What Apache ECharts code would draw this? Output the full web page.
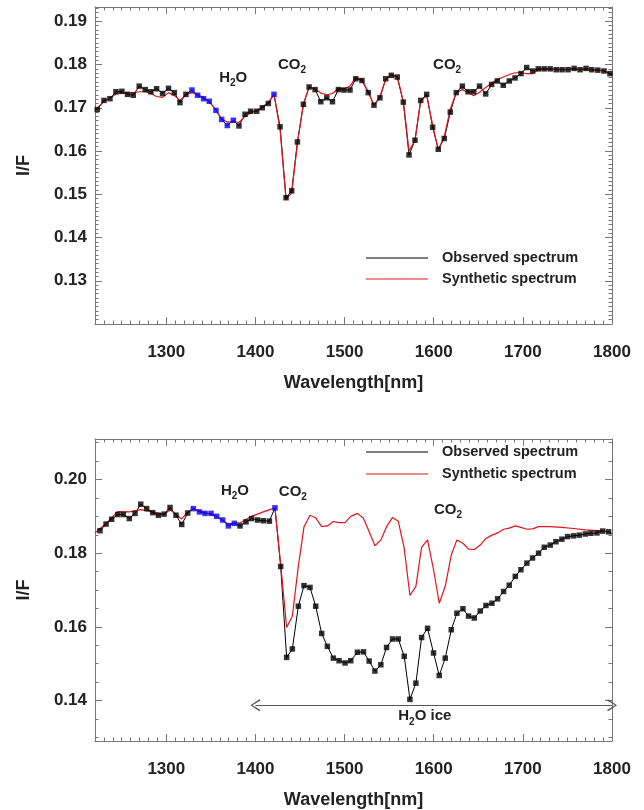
<!DOCTYPE html>
<html><head><meta charset="utf-8">
<script src="https://cdn.jsdelivr.net/npm/echarts@6/dist/echarts.min.js"></script>
<style>html,body{margin:0;padding:0;background:#fff}#c{width:644px;height:810px}</style>
</head><body><div id="c"></div>
<script>
// ---------- DATA ----------
const xMajor = [1300, 1400, 1500, 1600, 1700, 1800];
const yTopMajor = [0.13, 0.14, 0.15, 0.16, 0.17, 0.18, 0.19];
const yBotMajor = [0.14, 0.16, 0.18, 0.20];

// Top panel: observed spectrum
const topObsWl = [1222.6,1230.1,1236.8,1243.5,1250.2,1256.5,1262.9,1269.6,1276.4,1282.7,1289.1,1295.8,1302.5,1309.0,1315.3,1322.0,1328.8,1335.1,1341.8,1348.2,1355.7,1362.1,1368.4,1375.2,1381.5,1388.3,1394.6,1401.4,1407.7,1414.5,1420.8,1427.6,1434.3,1440.7,1447.1,1453.8,1460.2,1466.9,1473.3,1480.0,1486.4,1493.1,1499.4,1506.1,1512.5,1519.5,1526.6,1533.0,1539.7,1546.1,1552.4,1559.1,1565.9,1572.3,1579.0,1585.4,1592.1,1598.8,1605.1,1611.9,1618.6,1625.3,1632.1,1638.5,1644.9,1651.4,1658.3,1665.0,1671.3,1678.0,1684.8,1691.2,1697.9,1704.3,1711.0,1717.3,1723.9,1730.6,1737.4,1744.0,1750.7,1757.5,1764.2,1770.9,1777.3,1784.1,1791.0,1797.7];
const topObsVal = [0.1696,0.1717,0.1721,0.1737,0.1738,0.1731,0.1729,0.1750,0.1742,0.1737,0.1744,0.1733,0.1745,0.1735,0.1712,0.1731,0.1741,0.1729,0.1721,0.1715,0.1694,0.1673,0.1659,0.1671,0.1658,0.1685,0.1692,0.1692,0.1700,0.1710,0.1731,0.1656,0.1492,0.1508,0.1621,0.1708,0.1748,0.1742,0.1714,0.1723,0.1714,0.1742,0.1741,0.1741,0.1767,0.1763,0.1735,0.1706,0.1723,0.1767,0.1775,0.1771,0.1713,0.1591,0.1625,0.1717,0.1731,0.1655,0.1604,0.1629,0.1690,0.1735,0.1750,0.1737,0.1737,0.1750,0.1732,0.1754,0.1762,0.1752,0.1762,0.1769,0.1779,0.1793,0.1785,0.1790,0.1790,0.1790,0.1788,0.1788,0.1788,0.1791,0.1788,0.1791,0.1788,0.1787,0.1785,0.1779];
const topBlueIdx = [16,17,18,19,20,21,22,23,30];

// Top panel: synthetic spectrum
const topSynWl = [1220.0,1230.1,1236.8,1243.5,1250.2,1256.5,1262.9,1269.6,1276.4,1282.7,1289.1,1295.8,1302.5,1309.0,1315.3,1322.0,1328.8,1335.1,1341.8,1348.2,1355.7,1362.1,1368.4,1375.2,1381.5,1388.3,1394.6,1401.4,1407.7,1414.5,1420.8,1427.6,1434.3,1440.7,1447.1,1453.8,1460.2,1466.9,1473.3,1480.0,1486.4,1493.1,1499.4,1506.1,1512.5,1519.5,1526.6,1533.0,1539.7,1546.1,1552.4,1559.1,1565.9,1572.3,1579.0,1585.4,1592.1,1598.8,1605.1,1611.9,1618.6,1625.3,1632.1,1638.5,1644.9,1651.4,1658.3,1665.0,1671.3,1678.0,1684.8,1691.2,1697.9,1704.3,1711.0,1717.3,1730.6,1750.7,1770.9,1791.0,1800.0];
const topSynVal = [0.1694,0.1715,0.1722,0.1732,0.1735,0.1735,0.1735,0.1737,0.1737,0.1733,0.1726,0.1724,0.1735,0.1728,0.1717,0.1730,0.1735,0.1730,0.1724,0.1714,0.1695,0.1674,0.1667,0.1668,0.1666,0.1680,0.1688,0.1693,0.1702,0.1712,0.1731,0.1650,0.1488,0.1503,0.1618,0.1708,0.1748,0.1744,0.1734,0.1730,0.1733,0.1745,0.1744,0.1750,0.1770,0.1765,0.1737,0.1705,0.1727,0.1765,0.1777,0.1772,0.1715,0.1600,0.1625,0.1717,0.1728,0.1660,0.1603,0.1634,0.1697,0.1735,0.1742,0.1736,0.1728,0.1736,0.1747,0.1757,0.1765,0.1771,0.1777,0.1781,0.1781,0.1779,0.1779,0.1788,0.1789,0.1789,0.1788,0.1786,0.1775];

// Bottom panel: observed spectrum
const botObsWl = [1225.6,1232.4,1238.7,1245.5,1251.8,1258.5,1264.9,1271.3,1278.0,1284.7,1291.1,1297.5,1304.2,1310.9,1317.3,1324.0,1330.3,1337.1,1343.4,1350.2,1356.5,1363.2,1369.6,1376.3,1382.7,1389.4,1395.7,1402.5,1408.8,1415.6,1421.9,1428.3,1435.0,1441.4,1448.1,1454.5,1461.2,1467.6,1474.3,1480.7,1487.4,1493.8,1500.5,1506.9,1514.4,1521.2,1527.6,1534.0,1540.7,1547.1,1553.8,1560.2,1566.9,1573.3,1580.0,1586.4,1593.1,1599.8,1606.2,1612.9,1619.7,1626.0,1632.8,1639.1,1645.5,1652.2,1658.6,1665.3,1671.7,1678.4,1684.7,1691.5,1697.8,1704.5,1710.9,1717.6,1724.0,1730.7,1737.1,1743.8,1750.2,1756.9,1763.3,1770.0,1776.3,1783.1,1789.5,1796.2];
const botObsVal = [0.1861,0.1879,0.1892,0.1905,0.1905,0.1894,0.1908,0.1933,0.1921,0.1910,0.1903,0.1906,0.1924,0.1903,0.1878,0.1909,0.1921,0.1912,0.1908,0.1908,0.1900,0.1890,0.1874,0.1881,0.1874,0.1885,0.1894,0.1890,0.1888,0.1887,0.1923,0.1764,0.1517,0.1540,0.1656,0.1712,0.1707,0.1656,0.1582,0.1547,0.1515,0.1508,0.1502,0.1508,0.1531,0.1532,0.1507,0.1480,0.1497,0.1544,0.1567,0.1567,0.1520,0.1403,0.1447,0.1571,0.1596,0.1529,0.1468,0.1515,0.1592,0.1637,0.1649,0.1629,0.1624,0.1643,0.1658,0.1664,0.1676,0.1696,0.1713,0.1737,0.1755,0.1773,0.1787,0.1800,0.1816,0.1822,0.1831,0.1838,0.1845,0.1847,0.1849,0.1852,0.1854,0.1855,0.1860,0.1858];
const botBlueIdx = [16,17,18,19,20,21,22,23,30];

// Bottom panel: synthetic spectrum
const botSynWl = [1220.0,1225.6,1232.4,1245.5,1258.5,1271.3,1284.7,1297.5,1304.2,1317.3,1324.0,1330.3,1343.4,1356.5,1363.2,1369.6,1382.7,1395.7,1408.8,1421.9,1428.3,1435.0,1441.4,1448.1,1454.5,1461.2,1467.6,1474.3,1480.7,1487.4,1493.8,1500.5,1506.9,1514.4,1521.2,1527.6,1534.0,1540.7,1547.1,1553.8,1560.2,1566.9,1573.3,1580.0,1586.4,1593.1,1599.8,1606.2,1612.9,1619.7,1626.0,1632.8,1639.1,1645.5,1652.2,1658.6,1665.3,1671.7,1678.4,1684.7,1691.5,1697.8,1704.5,1710.9,1717.6,1730.7,1743.8,1756.9,1770.0,1783.1,1796.2,1800.0];
const botSynVal = [0.1855,0.1867,0.1880,0.1913,0.1912,0.1918,0.1912,0.1905,0.1918,0.1893,0.1912,0.1921,0.1910,0.1900,0.1888,0.1880,0.1882,0.1900,0.1912,0.1923,0.1770,0.1598,0.1629,0.1764,0.1872,0.1903,0.1896,0.1872,0.1874,0.1886,0.1883,0.1883,0.1900,0.1908,0.1895,0.1858,0.1820,0.1836,0.1872,0.1897,0.1887,0.1813,0.1685,0.1710,0.1816,0.1836,0.1755,0.1664,0.1710,0.1795,0.1836,0.1827,0.1811,0.1810,0.1822,0.1840,0.1849,0.1855,0.1865,0.1868,0.1874,0.1870,0.1865,0.1866,0.1872,0.1872,0.1870,0.1867,0.1863,0.1861,0.1858,0.1852];

// Annotations (data coordinates)
const topNotes = [["H2O",1375,0.1770],["CO2",1441,0.1800],["CO2",1615,0.1800]];
const botNotes = [["H2O",1377,0.1970],["CO2",1442,0.1967],["CO2",1616,0.1918]];
const iceArrow = [1400, 1800, 0.1387];
const iceLabel = ["H2O ice", 1590, 0.1357];

// ---------- STYLE / BUILD ----------
const FONT = "'Liberation Sans', Arial, Helvetica, sans-serif";
const TXT = '#222';
const AX = '#777';
const RED = '#e3141c';
const XMIN = 1220, XMAX = 1800;

const xMinor = []; for (let v = 1230; v < 1800; v += 10) if (v % 100) xMinor.push(v);
const yTopMinor = []; for (let i = 121; i <= 193; i++) if (i % 10) yTopMinor.push(i / 1000);
const yBotMinor = []; for (let i = 130; i <= 210; i += 5) if (i % 20) yBotMinor.push(i / 1000);

function xAxes(g) {
  const base = {type: 'value', gridIndex: g, min: XMIN, max: XMAX, splitLine: {show: false}};
  const line = {show: true, onZero: false, lineStyle: {color: AX, width: 1}};
  return [
    Object.assign({}, base, {position: 'bottom', axisLine: line,
      axisTick: {show: true, inside: true, length: 7, customValues: xMajor, lineStyle: {color: AX}},
      axisLabel: {show: true, customValues: xMajor, formatter: v => String(v), fontSize: 17, fontWeight: 'bold', color: TXT, fontFamily: FONT, margin: 20},
      name: 'Wavelength[nm]', nameLocation: 'middle', nameGap: 50,
      nameTextStyle: {fontSize: 18, fontWeight: 'bold', color: TXT, fontFamily: FONT, verticalAlign: 'top'}}),
    Object.assign({}, base, {position: 'bottom', axisLine: {show: false},
      axisTick: {show: true, inside: true, length: 3.5, customValues: xMinor, lineStyle: {color: AX}},
      axisLabel: {show: false}}),
    Object.assign({}, base, {position: 'top', axisLine: line,
      axisTick: {show: true, inside: true, length: 7, customValues: xMajor, lineStyle: {color: AX}},
      axisLabel: {show: false}}),
    Object.assign({}, base, {position: 'top', axisLine: {show: false},
      axisTick: {show: true, inside: true, length: 3.5, customValues: xMinor, lineStyle: {color: AX}},
      axisLabel: {show: false}})
  ];
}
function yAxes(g, min, max, major, minor) {
  const base = {type: 'value', gridIndex: g, min: min, max: max, splitLine: {show: false}};
  const line = {show: true, onZero: false, lineStyle: {color: AX, width: 1}};
  return [
    Object.assign({}, base, {position: 'left', axisLine: line,
      axisTick: {show: true, inside: true, length: 7, customValues: major, lineStyle: {color: AX}},
      axisLabel: {show: true, customValues: major, formatter: v => v.toFixed(2), fontSize: 17, fontWeight: 'bold', color: TXT, fontFamily: FONT, margin: 8},
      name: 'I/F', nameLocation: 'middle', nameGap: 62, nameRotate: 90,
      nameTextStyle: {fontSize: 18, fontWeight: 'bold', color: TXT, fontFamily: FONT}}),
    Object.assign({}, base, {position: 'left', axisLine: {show: false},
      axisTick: {show: true, inside: true, length: 3.5, customValues: minor, lineStyle: {color: AX}},
      axisLabel: {show: false}}),
    Object.assign({}, base, {position: 'right', axisLine: line,
      axisTick: {show: true, inside: true, length: 7, customValues: major, lineStyle: {color: AX}},
      axisLabel: {show: false}}),
    Object.assign({}, base, {position: 'right', axisLine: {show: false},
      axisTick: {show: true, inside: true, length: 3.5, customValues: minor, lineStyle: {color: AX}},
      axisLabel: {show: false}})
  ];
}
const pairs = (xs, ys) => xs.map((x, i) => [x, ys[i]]);
const chemFmt = s => s.replace(/^([A-Za-z]+)2(.*)$/, (m, a, b) => '{a|' + a + '}{s|2}' + (b ? '{a|' + b + '}' : ''));
const rich = {
  a: {fontSize: 15, fontWeight: 'bold', color: TXT, fontFamily: FONT, lineHeight: 22},
  s: {fontSize: 10, fontWeight: 'bold', color: TXT, fontFamily: FONT, lineHeight: 10, verticalAlign: 'bottom'}
};
const notePoint = n => ({coord: [n[1], n[2]], symbol: 'circle', symbolSize: 1, itemStyle: {color: 'rgba(0,0,0,0)'},
  label: {show: true, position: 'inside', formatter: chemFmt(n[0]), rich: rich}});

function panelSeries(g, obsWl, obsVal, blue, synWl, synVal, notes, extra) {
  const xi = g * 4, yi = g * 4;
  const sq = obsWl.map((x, i) => ({value: [x, obsVal[i]], itemStyle: {color: blue.indexOf(i) >= 0 ? '#0000ff' : '#000'}}));
  const s = [
    {type: 'line', xAxisIndex: xi, yAxisIndex: yi, data: pairs(obsWl, obsVal), showSymbol: false, symbol: 'none',
      lineStyle: {color: '#000', width: 1}, z: 2, silent: true, animation: false},
    {type: 'line', xAxisIndex: xi, yAxisIndex: yi, data: pairs(synWl, synVal), showSymbol: false, symbol: 'none',
      lineStyle: {color: RED, width: 1.2}, z: 3, silent: true, animation: false},
    {type: 'scatter', xAxisIndex: xi, yAxisIndex: yi, data: sq, symbol: 'rect', symbolSize: 5.5, z: 4, silent: true, animation: false,
      markPoint: {silent: true, animation: false, data: notes.map(notePoint).concat(extra ? [notePoint(extra.label)] : [])}}
  ];
  if (extra) {
    const chev = 'path://M5,0 L10,9 L9,10 L5,2 L1,10 L0,9 Z';
    s[0].markLine = {silent: true, animation: false, symbol: [chev, chev], symbolSize: [12, 10],
      lineStyle: {color: '#555', width: 1, type: 'solid'}, label: {show: false},
      data: [[{coord: [extra.arrow[0], extra.arrow[2]]}, {coord: [extra.arrow[1], extra.arrow[2]]}]]};
  }
  return s;
}

function legend(yObs, ySyn) {
  const mk = (y, color, text) => [
    {type: 'line', shape: {x1: 366, y1: y, x2: 428, y2: y}, style: {stroke: color, lineWidth: color === RED ? 1.2 : 1}},
    {type: 'text', x: 442, y: y, style: {text: text, fontSize: 14.5, fontWeight: 'bold', fill: TXT, fontFamily: FONT, verticalAlign: 'middle'}}
  ];
  return mk(yObs, '#000', 'Observed spectrum').concat(mk(ySyn, RED, 'Synthetic spectrum'));
}

const chart = echarts.init(document.getElementById('c'), null, {renderer: 'canvas'});
chart.setOption({
  animation: false,
  backgroundColor: '#fff',
  grid: [
    {left: 95, top: 7, width: 517, height: 317},
    {left: 95, top: 439, width: 517, height: 304}
  ],
  xAxis: xAxes(0).concat(xAxes(1)),
  yAxis: yAxes(0, 0.12, 0.1933, yTopMajor, yTopMinor).concat(yAxes(1, 0.129, 0.211, yBotMajor, yBotMinor)),
  series: panelSeries(0, topObsWl, topObsVal, topBlueIdx, topSynWl, topSynVal, topNotes, null)
    .concat(panelSeries(1, botObsWl, botObsVal, botBlueIdx, botSynWl, botSynVal, botNotes, {arrow: iceArrow, label: iceLabel})),
  graphic: legend(258, 279).concat(legend(452, 474))
});
</script></body></html>
